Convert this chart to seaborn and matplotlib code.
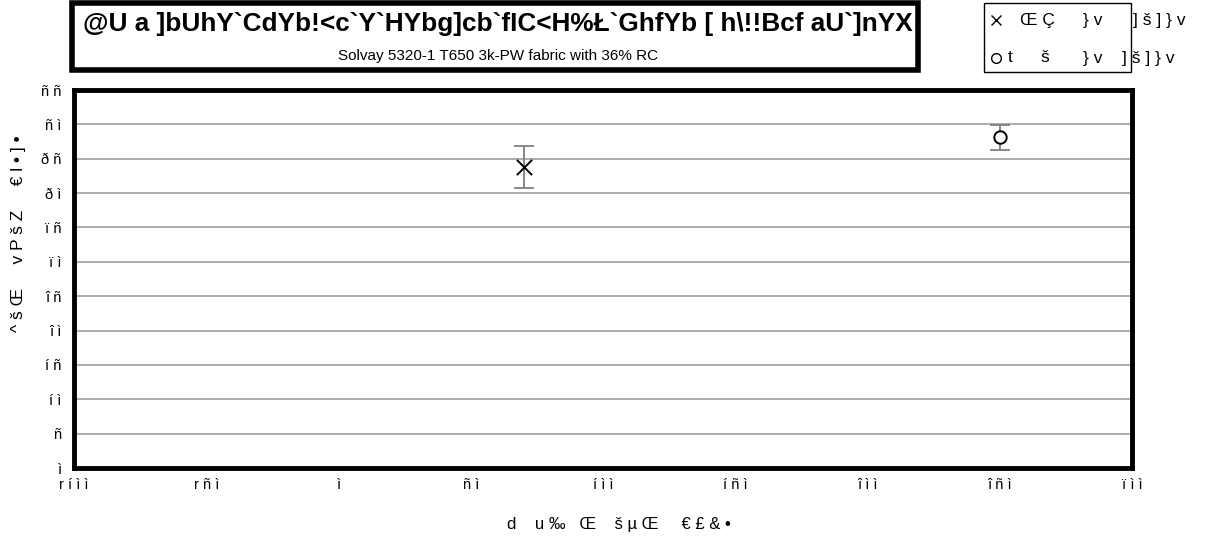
import numpy as np
import pandas as pd
import matplotlib.pyplot as plt
import matplotlib.lines as mlines
import matplotlib.patches as mpatches
import seaborn as sns

# =========================
# DATA (text kept as it appears in the reference)
# =========================
legend_words = [["Œ Ç", "} v", "] š ] } v"], ["t", "š", "} v", "] š ] } v"]]
temps = [70, 250]
strength = [43.8, 48.1]
strength_err = [3.0, 1.8]

y_ticks = [0, 5, 10, 15, 20, 25, 30, 35, 40, 45, 50, 55]
y_tick_labels = ["ì", "ñ", "í ì", "í ñ", "î ì", "î ñ", "ï ì", "ï ñ",
                 "ð ì", "ð ñ", "ñ ì", "ñ ñ"]
x_ticks = [-100, -50, 0, 50, 100, 150, 200, 250, 300]
x_tick_labels = ["r í ì ì", "r ñ ì", "ì", "ñ ì", "í ì ì", "í ñ ì",
                 "î ì ì", "î ñ ì", "ï ì ì"]

title = "@U a ]bUhY`CdYb!<c`Y`HYbg]cb`fIC<H%Ł`GhfYb [ h\\!!Bcf aU`]nYX"
subtitle = "Solvay 5320-1 T650 3k-PW fabric with 36% RC"
x_label = "d    u ‰   Œ    š µ Œ     € £ & •"
y_label = "^ š Œ     v P š Z     € l • ] •"

df = pd.DataFrame({"temp": temps, "strength": strength,
                   "err": strength_err, "cond": ["dry", "wet"]})

# =========================
# PLOT
# =========================
sns.set_style("white")
plt.rcParams['font.family'] = ['Liberation Sans', 'DejaVu Sans']
plt.rcParams['text.color'] = 'black'
plt.rcParams['axes.labelcolor'] = 'black'

fig = plt.figure(figsize=(12.09, 5.39), dpi=100)
ax = fig.add_axes([74 / 1209, 71 / 539, 1058 / 1209, 378 / 539])

# error bars
ax.errorbar(df["temp"], df["strength"], yerr=df["err"], fmt="none",
            ecolor="#7f7f7f", elinewidth=1.3, capsize=7, capthick=1.3,
            zorder=3)

dry = df[df["cond"] == "dry"]
wet = df[df["cond"] == "wet"]
sns.scatterplot(data=dry, x="temp", y="strength", marker="x", s=120,
                color="black", linewidth=1.4, ax=ax, legend=False, zorder=4)
sns.scatterplot(data=wet, x="temp", y="strength", marker="o", s=80,
                facecolor="white", edgecolor="black", linewidth=1.4,
                ax=ax, legend=False, zorder=4)

ax.set_xlim(-100, 300)
ax.set_ylim(0, 55)
ax.set_xticks(x_ticks)
ax.set_xticklabels(x_tick_labels, fontsize=10.5)
ax.set_yticks(y_ticks)
ax.set_yticklabels(y_tick_labels, fontsize=10.5)
ax.tick_params(axis="both", length=5, width=1, color="#8c8c8c",
               labelcolor="black", direction="out", pad=4)
ax.tick_params(axis="x", pad=2)

ax.grid(axis="y", color="#a6a6a6", linewidth=1.3)
ax.set_axisbelow(True)
for sp in ax.spines.values():
    sp.set_color("black")
    sp.set_linewidth(3.5)

ax.set_xlabel(x_label, fontsize=12)
ax.xaxis.set_label_coords(0.515, -0.13)
ax.set_ylabel(y_label, fontsize=12.5)
ax.yaxis.set_label_coords(-0.045, 0.62)

# title box
fig.add_artist(mpatches.Rectangle((72 / 1209, 1 - 70 / 539), 846 / 1209,
                                  67 / 539, transform=fig.transFigure,
                                  fill=False, edgecolor="black", linewidth=4))
fig.text(498 / 1209, 1 - 24 / 539, title, ha="center", va="center",
         fontsize=18.8, fontweight="bold")
fig.text(498 / 1209, 1 - 56 / 539, subtitle, ha="center", va="center",
         fontsize=11)

# legend box
fig.add_artist(mpatches.Rectangle((984 / 1209, 1 - 72 / 539), 147 / 1209,
                                  69 / 539, transform=fig.transFigure,
                                  fill=False, edgecolor="black", linewidth=1))
leg_y = [1 - 20 / 539, 1 - 58 / 539]
leg_marker = ["x", "o"]
leg_x = [[1020, 1083, 1133], [1008, 1040, 1083, 1122]]
for i, words in enumerate(legend_words):
    fig.add_artist(mlines.Line2D([996 / 1209], [leg_y[i]], marker=leg_marker[i],
                                 markersize=7, color="black",
                                 markerfacecolor="none", linestyle="none",
                                 transform=fig.transFigure))
    for w, xp in zip(words, leg_x[i]):
        fig.text(xp / 1209, leg_y[i], w, ha="left", va="center",
                 fontsize=12.5)

plt.savefig("out.png", dpi=100)
